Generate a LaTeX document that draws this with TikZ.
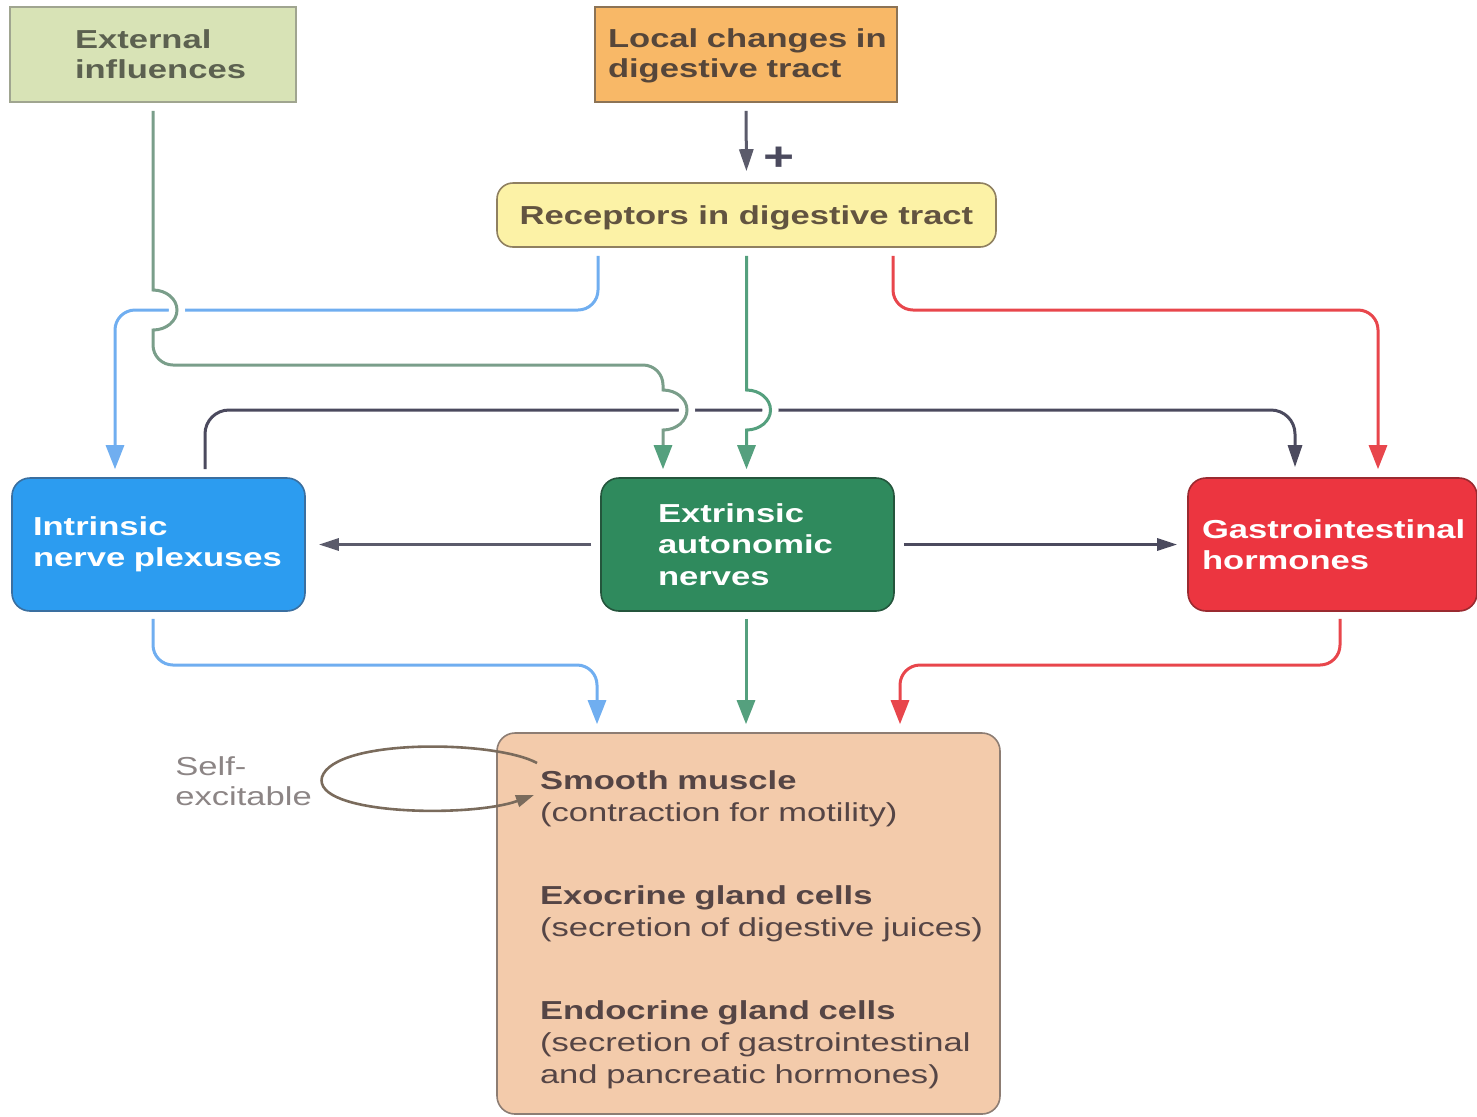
\documentclass[tikz,border=0pt]{standalone}
\usepackage{fontspec}
\setmainfont{Liberation Sans}[FakeStretch=1.33]
\usetikzlibrary{arrows.meta}

% box fills, borders and text
\definecolor{extfill}{HTML}{D8E3B6}
\definecolor{extdraw}{HTML}{A0A590}
\definecolor{exttext}{HTML}{5C6150}
\definecolor{locfill}{HTML}{F8B867}
\definecolor{locdraw}{HTML}{8C7355}
\definecolor{loctext}{HTML}{56463A}
\definecolor{recfill}{HTML}{FCF2A6}
\definecolor{recdraw}{HTML}{8F8060}
\definecolor{rectext}{HTML}{625440}
\definecolor{intfill}{HTML}{2C9CF0}
\definecolor{intdraw}{HTML}{3A6FA0}
\definecolor{extrfill}{HTML}{2F8A5D}
\definecolor{extrdraw}{HTML}{24553C}
\definecolor{gifill}{HTML}{EC3540}
\definecolor{gidraw}{HTML}{9A2A30}
\definecolor{efffill}{HTML}{F3CBAB}
\definecolor{effdraw}{HTML}{8D7D73}
\definecolor{efftext}{HTML}{554545}
\definecolor{selftext}{HTML}{8C8585}
% connector colours
\definecolor{bluel}{HTML}{70AEF0}
\definecolor{redl}{HTML}{E8464C}
\definecolor{greenl}{HTML}{55A07E}
\definecolor{extl}{HTML}{7A9E8A}
\definecolor{darkl}{HTML}{4B4A5E}
\definecolor{grayl}{HTML}{5B5B6B}
\definecolor{loopl}{HTML}{7A6B5C}

\newcommand{\nb}[1]{\mbox{#1}}

\begin{document}
\begin{tikzpicture}[x=0.5pt,y=-0.5pt,
  every node/.style={inner sep=0pt},
  squarebox/.style={draw, line width=0.8pt, align=left,
    font=\bfseries\fontsize{13pt}{15pt}\selectfont},
  roundbox/.style={draw, line width=0.8pt, rounded corners=9pt, align=left,
    text=white, minimum width=146.5pt, minimum height=66.5pt,
    font=\bfseries\fontsize{13pt}{15.75pt}\selectfont},
  link/.style={line width=1.5pt},
  bigtip/.style={-{Triangle[length=12pt,width=9pt]}},
  midtip/.style={-{Triangle[length=11pt,width=7pt]}},
  smalltip/.style={-{Triangle[length=10pt,width=6pt]}},
  gap/.style={draw=white, line width=8pt}
]
\useasboundingbox (0,0) rectangle (1477,1116);

% ---------- boxes ----------
\node[squarebox, fill=extfill, draw=extdraw, text=exttext,
      minimum width=143pt, minimum height=47.5pt, text width=78pt]
  (ext) at (153,54.5) {\nb{External}\\\nb{influences}};

\node[squarebox, fill=locfill, draw=locdraw, text=loctext,
      minimum width=151pt, minimum height=47.5pt, text width=138pt]
  (loc) at (746,54.5) {\rule{0pt}{11pt}\nb{Local changes in}\\\nb{digestive tract}};

\node[squarebox, fill=recfill, draw=recdraw, text=rectext, rounded corners=8pt,
      minimum width=249.5pt, minimum height=32pt, align=center]
  (rec) at (746.5,215) {\rule{0pt}{12pt}Receptors in digestive tract};

\node[roundbox, fill=intfill, draw=intdraw, text width=125.5pt]
  (intr) at (158.5,544.5) {\nb{Intrinsic}\\\nb{nerve plexuses}};

\node[roundbox, fill=extrfill, draw=extrdraw, text width=89.5pt]
  (extr) at (747.5,544.5) {\nb{Extrinsic}\\\nb{autonomic}\\\nb{nerves}};

\node[roundbox, fill=gifill, draw=gidraw, minimum width=144.5pt, text width=130.5pt]
  (gi) at (1332.5,544.5) {\nb{Gastrointestinal}\\\nb{hormones}};

\node[draw=effdraw, fill=efffill, line width=0.8pt, rounded corners=9pt,
      minimum width=251.5pt, minimum height=190.5pt, text width=208.5pt,
      align=left, text=efftext, font=\fontsize{13pt}{16pt}\selectfont]
  (eff) at (748.5,923.5)
  {\rule{0pt}{16pt}\nb{\bfseries Smooth muscle}\\
   \nb{(contraction for motility)}\\[25.5pt]
   \nb{\bfseries Exocrine gland cells}\\
   \nb{(secretion of digestive juices)}\\[25.5pt]
   \nb{\bfseries Endocrine gland cells}\\
   \nb{(secretion of gastrointestinal}\\
   \nb{and pancreatic hormones)}};

\node[align=left, anchor=west, text=selftext,
      font=\fontsize{13pt}{15pt}\selectfont]
  (selfx) at (175,781) {Self-\\excitable};

\node[text=darkl, font=\bfseries\fontsize{20pt}{20pt}\selectfont]
  (plus) at (779,159) {+};

% ---------- connectors passing underneath ----------
\draw[link, grayl, midtip, shorten <=4pt, shorten >=5.5pt]
  (loc.south) -- (rec.north);

\draw[link, bluel, bigtip, rounded corners=10pt, shorten <=4pt, shorten >=4pt]
  (598,0 |- rec.south) -- (598,310) -- (115,310) -- (115,0 |- intr.north);

\draw[link, redl, bigtip, rounded corners=10pt, shorten <=4pt, shorten >=4pt]
  (893,0 |- rec.south) -- (893,310) -- (1378,310) -- (1378,0 |- gi.north);

\draw[link, darkl, midtip, rounded corners=12pt, shorten <=4pt, shorten >=5pt]
  (205,0 |- intr.north) -- (205,410) -- (1295,410) -- (1295,0 |- gi.north);

% ---------- clearances where the green lines hop over ----------
\coordinate (hopA) at (153,290);
\coordinate (hopB) at (663,390);
\coordinate (hopC) at (746.5,390);
\foreach \h in {hopA,hopB,hopC}
  \draw[gap] (\h) arc[start angle=90, end angle=-90, x radius=12pt, y radius=10pt];

% ---------- green lines with hops ----------
\draw[link, extl, -{Triangle[length=12pt,width=9pt,color=greenl]}]
  ([yshift=-4pt]ext.south) -- (hopA)
  arc[start angle=90, end angle=-90, x radius=12pt, y radius=10pt]
  -- (153,345)
  arc[start angle=180, end angle=270, radius=10pt]
  -- (643,365)
  arc[start angle=90, end angle=0, radius=10pt]
  -- (hopB)
  arc[start angle=90, end angle=-90, x radius=12pt, y radius=10pt]
  -- ([yshift=4pt]663,0 |- extr.north);

\draw[link, greenl, bigtip]
  ([yshift=-4pt]rec.south) -- (hopC)
  arc[start angle=90, end angle=-90, x radius=12pt, y radius=10pt]
  -- ([yshift=4pt]746.5,0 |- extr.north);

% ---------- horizontal links from the extrinsic nerves ----------
\draw[link, grayl, smalltip, shorten <=4.5pt, shorten >=6.5pt]
  (extr.west) -- (intr.east);
\draw[link, darkl, smalltip, shorten <=4.5pt, shorten >=5pt]
  (extr.east) -- (gi.west);

% ---------- links down to the effector cells ----------
\draw[link, bluel, bigtip, rounded corners=10pt, shorten <=3.5pt, shorten >=4pt]
  (153,0 |- intr.south) -- (153,665) -- (597,665) -- (597,0 |- eff.north);

\draw[link, greenl, bigtip, shorten <=3.5pt, shorten >=4pt]
  (746,0 |- extr.south) -- (746,0 |- eff.north);

\draw[link, redl, bigtip, rounded corners=10pt, shorten <=3.5pt, shorten >=4pt]
  (1340,0 |- gi.south) -- (1340,665) -- (900,665) -- (900,0 |- eff.north);

% ---------- self-excitation loop ----------
\coordinate (loopstart) at (537,763);
\coordinate (loopend) at (534,795);
\draw[line width=1.3pt, loopl, -{Triangle[length=9pt,width=6pt]}]
  (loopstart) .. controls (495,740) and (335,738) .. (322,777)
  .. controls (312,815) and (470,818) .. (loopend);

\end{tikzpicture}
\end{document}
